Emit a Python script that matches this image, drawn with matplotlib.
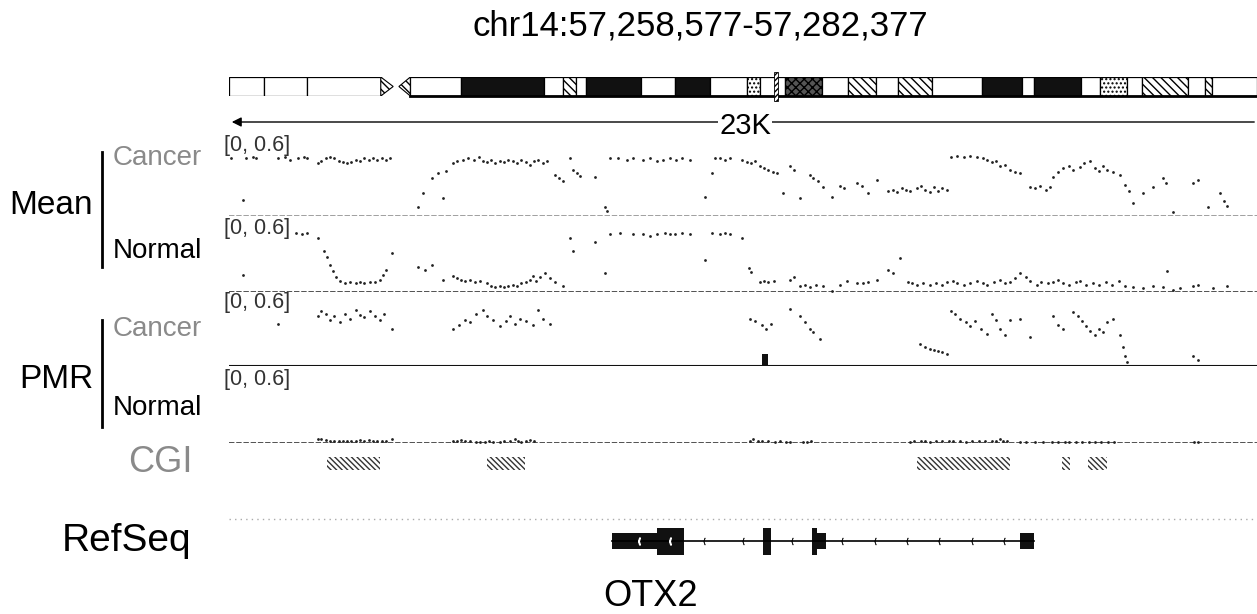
import matplotlib
matplotlib.use('Agg')
import matplotlib.pyplot as plt
from matplotlib.patches import Rectangle, Polygon
import numpy as np

W, H = 1257, 614
plt.rcParams['font.family'] = ['Liberation Sans', 'DejaVu Sans']
plt.rcParams['hatch.linewidth'] = 1.0

# ---------------- data ----------------
REGION = "chr14:57,258,577-57,282,377"
REGION_KB = 23.92          # visible window width in kb
SCALE_LABEL = "23K"
RANGE_LABEL = "[0, 0.6]"
YMAX = 0.6
GENE = "OTX2"

# Mean methylation, cancer (position kb from window start, value)
mean_cancer_pos = [0.05, 0.33, 0.40, 0.55, 0.62, 1.14, 1.30, 1.42, 1.60, 1.75, 1.82,
    2.07, 2.15, 2.25, 2.35, 2.45, 2.55, 2.65, 2.75, 2.85, 2.95, 3.05, 3.15, 3.25, 3.35, 3.45, 3.55, 3.65, 3.75,
    4.40, 4.51, 4.72, 4.86, 4.98, 5.05, 5.21, 5.30, 5.45, 5.55, 5.70, 5.82, 5.91, 6.00, 6.10, 6.20, 6.31, 6.40,
    6.50, 6.60, 6.70, 6.80, 6.90, 7.00, 7.10, 7.20, 7.30, 7.40,
    7.59, 7.68, 7.77, 7.94, 8.00, 8.10, 8.17, 8.52, 8.75, 8.80,
    8.87, 9.05, 9.25, 9.40, 9.63, 9.80, 9.95, 10.10, 10.25, 10.40, 10.55, 10.73,
    11.08, 11.24, 11.31, 11.43, 11.55, 11.66,
    11.94, 12.05, 12.15, 12.25, 12.36, 12.45, 12.55, 12.65, 12.75, 12.89, 13.05, 13.15, 13.29, 13.52, 13.60,
    13.70, 13.82, 14.03, 14.22, 14.32, 14.61, 14.72, 14.87, 15.08, 15.34, 15.45, 15.55, 15.65, 15.75, 15.85,
    16.01, 16.10, 16.20, 16.30, 16.40, 16.50, 16.60, 16.71,
    16.80, 16.95, 17.10, 17.25, 17.40, 17.55, 17.64, 17.75, 17.85, 17.94, 18.05, 18.17, 18.30, 18.41,
    18.64, 18.75, 18.87, 19.00, 19.10, 19.17, 19.30, 19.41, 19.55, 19.64, 19.80, 19.90, 20.04, 20.15, 20.25,
    20.34, 20.43, 20.57, 20.73,
    20.85, 20.95, 21.04, 21.27, 21.50, 21.73, 21.80, 21.97, 22.43, 22.55, 22.78, 23.06, 23.15, 23.22]
mean_cancer_val = [0.46, 0.13, 0.46, 0.47, 0.46, 0.46, 0.47, 0.45, 0.46, 0.47, 0.46,
    0.42, 0.44, 0.46, 0.47, 0.46, 0.44, 0.43, 0.42, 0.43, 0.45, 0.44, 0.46, 0.45, 0.46, 0.45, 0.46, 0.45, 0.46,
    0.07, 0.18, 0.30, 0.34, 0.14, 0.36, 0.42, 0.44, 0.45, 0.46, 0.45, 0.47, 0.44, 0.43, 0.45, 0.42, 0.44, 0.43,
    0.45, 0.44, 0.42, 0.45, 0.43, 0.41, 0.44, 0.45, 0.42, 0.44,
    0.33, 0.30, 0.28, 0.46, 0.37, 0.34, 0.32, 0.31, 0.07, 0.04,
    0.46, 0.46, 0.45, 0.46, 0.45, 0.46, 0.44, 0.45, 0.46, 0.45, 0.46, 0.45,
    0.15, 0.34, 0.46, 0.46, 0.45, 0.46,
    0.45, 0.43, 0.42, 0.44, 0.40, 0.38, 0.37, 0.35, 0.34, 0.18, 0.40, 0.37, 0.14, 0.33, 0.30,
    0.28, 0.23, 0.15, 0.24, 0.22, 0.26, 0.24, 0.18, 0.29, 0.20, 0.21, 0.19, 0.22, 0.21, 0.20,
    0.22, 0.24, 0.21, 0.19, 0.23, 0.20, 0.22, 0.21,
    0.47, 0.48, 0.47, 0.48, 0.47, 0.46, 0.45, 0.43, 0.44, 0.40, 0.41, 0.37, 0.35, 0.34,
    0.23, 0.22, 0.24, 0.21, 0.23, 0.31, 0.35, 0.38, 0.40, 0.37, 0.39, 0.42, 0.44, 0.38, 0.36,
    0.40, 0.37, 0.35, 0.33,
    0.25, 0.20, 0.10, 0.18, 0.23, 0.30, 0.26, 0.03, 0.26, 0.29, 0.07, 0.18, 0.12, 0.08]

# Mean methylation, normal
mean_normal_pos = [0.33, 1.55, 1.70, 1.82,
    2.07, 2.20, 2.28, 2.35, 2.42, 2.50, 2.58, 2.70, 2.82, 2.95, 3.05, 3.15, 3.28, 3.40, 3.51, 3.58, 3.65, 3.79,
    4.40, 4.55, 4.72, 4.98, 5.21, 5.30, 5.40, 5.50, 5.61, 5.72, 5.85, 6.00, 6.10, 6.20, 6.31, 6.40, 6.50, 6.60,
    6.70, 6.80, 6.90, 7.00, 7.07, 7.15, 7.24, 7.35, 7.47, 7.59, 7.77,
    7.94, 8.00, 8.52, 8.75, 8.87, 9.10, 9.40, 9.63, 9.80, 9.95, 10.15, 10.25, 10.38, 10.55, 10.73, 11.08, 11.24,
    11.43, 11.55, 11.66, 11.94,
    12.10, 12.15, 12.36, 12.45, 12.55, 12.68, 13.05, 13.15, 13.29, 13.40, 13.52, 13.65, 13.82, 14.03, 14.22,
    14.38, 14.61, 14.75, 14.87, 15.08, 15.34, 15.45, 15.61,
    15.80, 15.90, 16.01, 16.15, 16.30, 16.45, 16.60, 16.71, 16.85, 16.95, 17.10, 17.25, 17.40, 17.55, 17.64,
    17.80, 17.94, 18.05, 18.17, 18.30, 18.41, 18.55, 18.64, 18.80, 18.90, 19.05, 19.17, 19.30, 19.41, 19.55,
    19.70, 19.80, 19.95, 20.10, 20.25, 20.40, 20.55, 20.70, 20.85, 21.04, 21.27, 21.50, 21.73, 21.82, 21.97,
    22.13, 22.43, 22.55, 22.90, 23.22]
mean_normal_val = [0.14, 0.47, 0.46, 0.47,
    0.43, 0.33, 0.28, 0.22, 0.17, 0.12, 0.09, 0.07, 0.08, 0.07, 0.08, 0.07, 0.08, 0.08, 0.10, 0.14, 0.18, 0.31,
    0.20, 0.18, 0.22, 0.10, 0.13, 0.11, 0.10, 0.09, 0.10, 0.08, 0.09, 0.07, 0.05, 0.04, 0.05, 0.04, 0.05, 0.06,
    0.05, 0.07, 0.08, 0.10, 0.13, 0.09, 0.12, 0.15, 0.11, 0.08, 0.05,
    0.43, 0.33, 0.40, 0.15, 0.46, 0.47, 0.46, 0.46, 0.45, 0.46, 0.47, 0.46, 0.46, 0.47, 0.46, 0.26, 0.47,
    0.46, 0.47, 0.46, 0.43,
    0.19, 0.16, 0.08, 0.09, 0.08, 0.09, 0.10, 0.12, 0.05, 0.06, 0.04, 0.06, 0.05, 0.01, 0.06,
    0.09, 0.07, 0.07, 0.08, 0.10, 0.18, 0.15, 0.27,
    0.08, 0.07, 0.06, 0.07, 0.06, 0.07, 0.06, 0.08, 0.09, 0.07, 0.06, 0.07, 0.09, 0.07, 0.06,
    0.08, 0.10, 0.07, 0.08, 0.11, 0.15, 0.12, 0.09, 0.06, 0.08, 0.07, 0.08, 0.10, 0.07, 0.06,
    0.08, 0.09, 0.06, 0.07, 0.06, 0.08, 0.06, 0.09, 0.05, 0.04, 0.03, 0.05, 0.04, 0.17, 0.02,
    0.03, 0.05, 0.06, 0.03, 0.05]

# PMR, cancer
pmr_cancer_pos = [1.14, 2.07, 2.15, 2.25, 2.35, 2.45, 2.58, 2.70, 2.82, 2.95, 3.05, 3.15, 3.28, 3.40, 3.51, 3.60, 3.79,
    5.21, 5.35, 5.50, 5.61, 5.75, 5.91, 6.00, 6.15, 6.31, 6.45, 6.54, 6.65, 6.77, 6.90, 7.07, 7.20, 7.30, 7.47,
    12.12, 12.25, 12.40, 12.50, 12.60, 13.05, 13.29, 13.40, 13.52, 13.60, 13.75,
    16.08, 16.20, 16.30, 16.40, 16.50, 16.60, 16.71,
    16.80, 16.90, 17.01, 17.15, 17.25, 17.36, 17.50, 17.64, 17.75, 17.85, 17.94, 18.05, 18.17, 18.41, 18.64,
    19.17, 19.30, 19.41, 19.64, 19.75, 19.85, 19.95, 20.04, 20.15, 20.25, 20.34, 20.43, 20.57, 20.73, 20.80,
    20.85, 20.90, 22.43, 22.55]
pmr_cancer_val = [0.34, 0.40, 0.44, 0.42, 0.37, 0.40, 0.35, 0.42, 0.38, 0.45, 0.41, 0.39, 0.44, 0.40, 0.37, 0.42, 0.30,
    0.30, 0.33, 0.37, 0.35, 0.42, 0.45, 0.40, 0.37, 0.32, 0.36, 0.40, 0.34, 0.38, 0.36, 0.33, 0.45, 0.38, 0.34,
    0.38, 0.36, 0.33, 0.30, 0.34, 0.46, 0.40, 0.35, 0.30, 0.27, 0.22,
    0.18, 0.15, 0.14, 0.13, 0.12, 0.11, 0.10,
    0.44, 0.42, 0.38, 0.35, 0.32, 0.36, 0.30, 0.26, 0.42, 0.37, 0.30, 0.25, 0.37, 0.38, 0.23,
    0.40, 0.33, 0.30, 0.43, 0.40, 0.36, 0.32, 0.28, 0.25, 0.30, 0.27, 0.35, 0.38, 0.25, 0.15,
    0.08, 0.03, 0.08, 0.05]
pmr_cancer_bar_pos = [12.47]
pmr_cancer_bar_val = [0.10]
pmr_cancer_bar_width = 0.14

# PMR, normal
pmr_normal_pos = [2.07, 2.15, 2.25, 2.35, 2.45, 2.55, 2.65, 2.75, 2.85, 2.95, 3.05, 3.15, 3.25, 3.35, 3.45, 3.55, 3.65, 3.79,
    5.21, 5.30, 5.40, 5.50, 5.61, 5.75, 5.85, 5.95, 6.05, 6.15, 6.30, 6.40, 6.54, 6.65, 6.72, 6.80, 6.90, 7.00, 7.10,
    12.12, 12.20, 12.30, 12.40, 12.55, 12.70, 12.82, 12.95, 13.05, 13.35, 13.45, 13.55,
    15.85, 15.95, 16.10, 16.20, 16.30, 16.45, 16.60, 16.75, 16.85, 17.00, 17.15, 17.30, 17.45, 17.60, 17.75,
    17.85, 17.94, 18.02, 18.10, 18.40, 18.55, 18.75, 18.95, 19.15, 19.30, 19.45, 19.55, 19.70, 19.85, 20.00,
    20.15, 20.30, 20.45, 20.60, 22.45, 22.55]
pmr_normal_val = [0.035, 0.03, 0.025, 0.02, 0.02, 0.02, 0.02, 0.02, 0.02, 0.02, 0.025, 0.02, 0.025, 0.02, 0.02, 0.015, 0.02, 0.03,
    0.02, 0.02, 0.025, 0.015, 0.02, 0.01, 0.01, 0.01, 0.015, 0.01, 0.01, 0.015, 0.02, 0.03, 0.02, 0.01, 0.02, 0.025, 0.02,
    0.02, 0.03, 0.02, 0.02, 0.015, 0.01, 0.015, 0.01, 0.01, 0.01, 0.01, 0.015,
    0.01, 0.015, 0.015, 0.015, 0.01, 0.015, 0.015, 0.02, 0.015, 0.015, 0.01, 0.015, 0.015, 0.015, 0.02,
    0.015, 0.03, 0.015, 0.02, 0.01, 0.01, 0.01, 0.01, 0.01, 0.01, 0.01, 0.01, 0.01, 0.01, 0.01,
    0.01, 0.01, 0.01, 0.01, 0.01, 0.005]

# CpG islands (kb)
cgi_start = [2.28, 6.00, 16.01, 19.38, 19.99]
cgi_end = [3.51, 6.89, 18.17, 19.57, 20.43]

# OTX2 exons (kb), thick = coding
exon_start = [8.91, 9.96, 12.43, 13.57, 13.68, 18.41]
exon_end = [9.96, 10.59, 12.61, 13.68, 13.89, 18.73]
exon_thick = [False, True, True, True, False, False]

# Chromosome 14 ideogram bands (Mb)
band_start = [0.0, 3.7, 8.2, 19.0, 24.3, 33.0, 35.0, 36.4, 37.4, 43.2, 46.7, 50.4, 54.3, 55.6, 58.2,
              62.1, 64.9, 67.8, 70.1, 73.6, 78.9, 83.1, 84.3, 89.3, 91.3, 94.1, 95.6, 100.5, 102.2, 103.0]
band_end = [3.7, 8.2, 15.9, 24.3, 33.0, 35.0, 36.4, 37.4, 43.2, 46.7, 50.4, 54.3, 55.6, 58.2, 62.1,
            64.9, 67.8, 70.1, 73.6, 78.9, 83.1, 84.3, 89.3, 91.3, 94.1, 95.6, 100.5, 102.2, 103.0, 107.7]
band_kind = ['w', 'w', 'w', 'w', 'k', 'w', 'h', 'w', 'k', 'w', 'k', 'w', 'd', 'w', 'x',
             'w', 'h', 'w', 'h', 'w', 'k', 'w', 'k', 'w', 'd', 'w', 'h', 'w', 'h', 'w']
centromere = (15.9, 17.2, 17.8, 19.0)
chrom_len = 107.7
view_mb = 57.27

# ---------------- figure ----------------
fig = plt.figure(figsize=(W / 100, H / 100), dpi=100)


def px_axes(x0, y0, x1, y1, z=1):
    ax = fig.add_axes([x0 / W, 1 - y1 / H, (x1 - x0) / W, (y1 - y0) / H])
    ax.set_zorder(z)
    ax.patch.set_visible(False)
    ax.axis('off')
    return ax


# overlay for labels
ov = px_axes(0, 0, W, H, z=0)
ov.set_xlim(0, W)
ov.set_ylim(H, 0)

ov.text(473, 26, REGION, ha='left', va='center', fontsize=25, color='black')

# ideogram
ia = px_axes(229, 77, 1257, 96, z=2)
ia.set_xlim(0, chrom_len)
ia.set_ylim(0, 1)
styles = {'w': dict(fc='white', hatch=None), 'k': dict(fc='#111111', hatch=None),
          'h': dict(fc='white', hatch='\\\\\\\\'), 'd': dict(fc='white', hatch='....'),
          'x': dict(fc='#555555', hatch='xxxx')}
for s, e, k in zip(band_start, band_end, band_kind):
    st = styles[k]
    ia.add_patch(Rectangle((s, 0), e - s, 1, facecolor=st['fc'], hatch=st['hatch'],
                           edgecolor='black', lw=0.9))
c0, c1, c2, c3 = centromere
ia.add_patch(Polygon([(c0, 0), (c0, 1), (c1, 0.5)], closed=True, facecolor='white',
                     hatch='\\\\\\\\', edgecolor='black', lw=0.8))
ia.add_patch(Polygon([(c3, 0), (c3, 1), (c2, 0.5)], closed=True, facecolor='white',
                     hatch='\\\\\\\\', edgecolor='black', lw=0.8))
ia.plot([c3, chrom_len], [0, 0], color='black', lw=2.0, clip_on=False)
ia.add_patch(Rectangle((view_mb - 0.2, -0.25), 0.45, 1.5, facecolor='white', hatch='//////',
                       edgecolor='black', lw=0.6, clip_on=False, zorder=5))

# scale bar
ov.annotate('', xy=(229, 122), xytext=(1257, 122),
            arrowprops=dict(arrowstyle='-|>', color='black', lw=1.0, mutation_scale=14))
ov.text(745, 126, SCALE_LABEL, ha='center', va='center', fontsize=21, color='black',
        bbox=dict(facecolor='white', edgecolor='none', pad=0.5))

# tracks
tracks = [
    (141, 216, mean_cancer_pos, mean_cancer_val, '#999999', (0, (3, 1)), 1.3),
    (217, 292, mean_normal_pos, mean_normal_val, '#444444', (0, (3, 1)), 1.3),
    (291, 366, pmr_cancer_pos, pmr_cancer_val, '#111111', '-', 1.5),
    (368, 443, pmr_normal_pos, pmr_normal_val, '#444444', (0, (3, 1)), 1.3),
]
for i, (yt, yb, pos, val, bcol, bls, blw) in enumerate(tracks):
    ax = px_axes(229, yt, 1257, yb, z=3)
    ax.set_xlim(0, REGION_KB)
    ax.set_ylim(0, YMAX)
    ax.axhline(0, color=bcol, lw=blw, ls=bls)
    ax.plot(pos, val, 'o', ms=2.0, color='#222222', mec='none', clip_on=False)
    if i == 2:
        ax.bar(pmr_cancer_bar_pos, pmr_cancer_bar_val, width=pmr_cancer_bar_width,
               color='#111111')
    ov.text(224, yt - 6 if i == 0 else yt + 1, RANGE_LABEL, ha='left', va='top',
            fontsize=15.5, color='#333333')

# track labels
ov.text(93, 205, 'Mean', ha='right', va='center', fontsize=24)
ov.text(93, 380, 'PMR', ha='right', va='center', fontsize=24)
ov.plot([101.5, 101.5], [152, 267], color='black', lw=2)
ov.plot([101.5, 101.5], [320, 427], color='black', lw=2)
ov.text(113, 158, 'Cancer', ha='left', va='center', fontsize=20, color='#8a8a8a')
ov.text(113, 251, 'Normal', ha='left', va='center', fontsize=20, color='black')
ov.text(113, 329, 'Cancer', ha='left', va='center', fontsize=20, color='#8a8a8a')
ov.text(113, 408, 'Normal', ha='left', va='center', fontsize=20, color='black')
ov.text(160, 463, 'CGI', ha='center', va='center', fontsize=26, color='#8a8a8a')
ov.text(62, 551, 'RefSeq', ha='left', va='baseline', fontsize=28, color='black')

# CGI track
ca = px_axes(229, 457, 1257, 470, z=3)
ca.set_xlim(0, REGION_KB)
ca.set_ylim(0, 1)
for s, e in zip(cgi_start, cgi_end):
    ca.add_patch(Rectangle((s, 0), e - s, 1, facecolor='white', hatch='\\\\\\\\\\\\',
                           edgecolor='#333333', lw=0))

# RefSeq track
ov.plot([229, 1257], [519, 519], color='#aaaaaa', lw=1, ls=(0, (1, 3)))
ga = px_axes(229, 514, 1257, 568, z=3)
ga.set_xlim(0, REGION_KB)
ga.set_ylim(-1, 1)
ga.plot([min(exon_start), max(exon_end)], [0, 0], color='black', lw=1.2)
# strand chevrons in introns
intron_marks = []
for a, b in zip(exon_end[:-1], exon_start[1:]):
    if b - a > 0.3:
        n = int((b - a) / 0.66)
        intron_marks += list(a + (b - a) * (np.arange(n) + 0.5) / n)
ga.plot(intron_marks, np.zeros(len(intron_marks)), ls='none', marker=r'$\langle$', ms=5,
        color='black', mew=0.3)
for s, e, t in zip(exon_start, exon_end, exon_thick):
    h = 0.5 if t else 0.3
    ga.add_patch(Rectangle((s, -h), e - s, 2 * h, facecolor='#111111', edgecolor='none'))
exon_marks = [9.55, 10.25]
ga.plot(exon_marks, [0, 0], ls='none', marker=r'$\langle$', ms=5, color='white', zorder=5)
ov.text(603, 606, GENE, ha='left', va='baseline', fontsize=26, color='black')

fig.savefig('out.png', dpi=100)
